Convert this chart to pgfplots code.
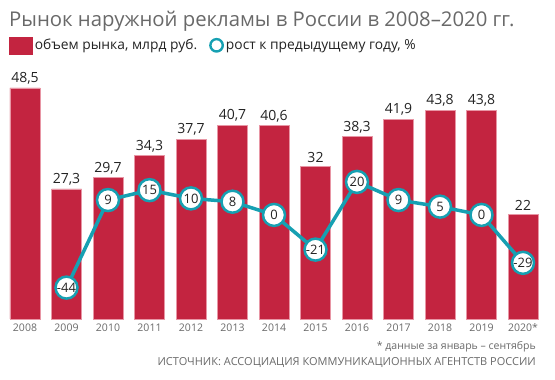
\documentclass[border=0pt]{standalone}
\usepackage{pgfplots}
\pgfplotsset{compat=1.18}
\usepackage{fontspec}
\setmainfont{Open Sans}
\definecolor{barred}{RGB}{195,36,64}
\definecolor{baredge}{RGB}{232,150,165}
\definecolor{myteal}{RGB}{22,160,178}
\definecolor{txtgray}{RGB}{105,105,105}
\definecolor{txtdark}{RGB}{35,35,35}
\begin{document}
\begin{tikzpicture}[x=1pt,y=1pt]
\path[use as bounding box] (0,0) rectangle (555,380);
\node[anchor=west, inner sep=0, text=txtgray] at (9,359) {\fontsize{20.3}{20.3}\selectfont Рынок наружной рекламы в России в 2008–2020 гг.};
\node[anchor=east, inner sep=0, text=txtgray] at (536,33) {\fontsize{10.5}{10.5}\selectfont * данные за январь – сентябрь};
\node[anchor=east, inner sep=0, text=txtgray] at (536,17) {\fontsize{11}{11}\selectfont ИСТОЧНИК: АССОЦИАЦИЯ КОММУНИКАЦИОННЫХ АГЕНТСТВ РОССИИ};
\begin{axis}[
  at={(4.25pt,61pt)}, anchor=south west, scale only axis,
  width=539.5pt, height=238.2pt,
  xmin=-0.5, xmax=12.5, ymin=0, ymax=50,
  axis line style={draw=none}, ytick=\empty,
  xtick={0,...,12},
  xticklabels={2008,2009,2010,2011,2012,2013,2014,2015,2016,2017,2018,2019,2020*},
  tick style={draw=none},
  xticklabel style={font=\fontsize{10.5}{10.5}\selectfont, text=txtgray, yshift=-1pt},
  clip=false,
  /pgf/number format/assume math mode=true,
  /pgf/number format/use comma,
  legend style={at={(0.0088,1.149)}, anchor=west, draw=none, fill=none, inner sep=0pt,
    font=\fontsize{13.8}{13.8}\selectfont, text=txtdark,
    nodes={inner xsep=2pt},
    /tikz/every even column/.append style={column sep=10pt}},
  legend columns=2,
]
\addplot[ybar, bar width=30pt, fill=barred, draw=baredge, line width=0.6pt,
  nodes near coords,
  every node near coord/.append style={font=\fontsize{14}{14}\selectfont, text=txtdark},
  legend image code/.code={\fill[barred] (0pt,-8.5pt) rectangle (23pt,8.5pt);}]
  coordinates {(0,48.5) (1,27.3) (2,29.7) (3,34.3) (4,37.7) (5,40.7) (6,40.6) (7,32) (8,38.3) (9,41.9) (10,43.8) (11,43.8) (12,22)};
\addlegendentry{объем рынка, млрд руб.}
\addlegendimage{legend image code/.code={\draw[myteal, line width=2.4pt, fill=white] (7pt,0pt) circle (6.2pt);}}
\addlegendentry{рост к предыдущему году, \%}
\end{axis}
\begin{axis}[
  at={(4.25pt,61pt)}, anchor=south west, scale only axis,
  width=539.5pt, height=238.2pt,
  xmin=-0.5, xmax=12.5, ymin=-63, ymax=81.2,
  hide axis, clip=false,
  /pgf/number format/assume math mode=true,
]
\addplot[myteal, line width=3.5pt, mark=*, mark size=11pt,
  mark options={fill=white, draw=myteal, line width=2.5pt},
  nodes near coords,
  every node near coord/.append style={anchor=center, font=\fontsize{13}{13}\selectfont, text=txtdark}]
  coordinates {(1,-44) (2,9) (3,15) (4,10) (5,8) (6,0) (7,-21) (8,20) (9,9) (10,5) (11,0) (12,-29)};
\end{axis}
\end{tikzpicture}
\end{document}
